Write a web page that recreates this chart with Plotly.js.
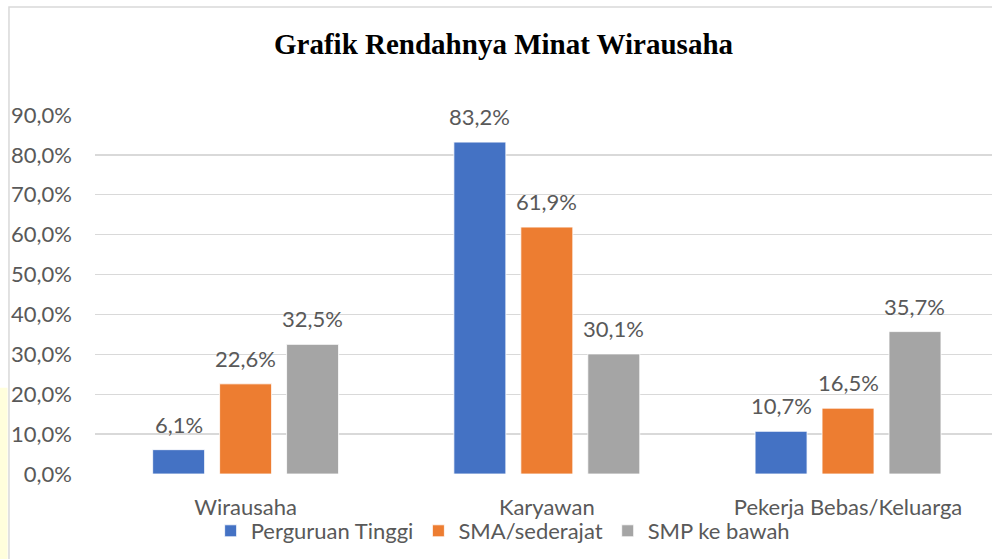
<!DOCTYPE html>
<html>
<head>
<meta charset="utf-8">
<script src="https://cdn.plot.ly/plotly-3.0.1.min.js"></script>
<style>
  html, body { margin: 0; padding: 0; background: #ffffff; overflow: hidden; }
  #chart { width: 992px; height: 559px; }
</style>
</head>
<body>
<div id="chart"></div>
<script>
// ---- Data ----
const categories = ["Wirausaha", "Karyawan", "Pekerja Bebas/Keluarga"];
const seriesNames = ["Perguruan Tinggi", "SMA/sederajat", "SMP ke bawah"];
const perguruanTinggi = [6.1, 83.2, 10.7];
const smaSederajat = [22.6, 61.9, 16.5];
const smpKeBawah = [32.5, 30.1, 35.7];
const yTickValues = [0, 10, 20, 30, 40, 50, 60, 70, 80, 90];
const yTickLabels = ["0,0%", "10,0%", "20,0%", "30,0%", "40,0%", "50,0%", "60,0%", "70,0%", "80,0%", "90,0%"];
const chartTitle = "Grafik Rendahnya Minat Wirausaha";

// ---- Styles ----
const colors = ["#4472C4", "#ED7D31", "#A5A5A5"];
const textColor = "#595959";
const gridColor = "#D9D9D9";
const fontFamily = "Lato, 'Open Sans', sans-serif";
const fontSize = 22;
const bargap = 0.333;

const seriesValues = [perguruanTinggi, smaSederajat, smpKeBawah];
const catIndex = categories.map((c, i) => i);

const traces = seriesValues.map((vals, j) => ({
  type: "bar",
  name: seriesNames[j],
  x: catIndex,
  y: vals,
  marker: { color: colors[j], line: { color: "#ffffff", width: 0.8 } },
  hoverinfo: "skip"
}));

function fmt(v) { return v.toFixed(1).replace(".", ",") + "%"; }

const slot = (1 - bargap) / seriesValues.length;
const annotations = [];
seriesValues.forEach((vals, j) => {
  vals.forEach((v, i) => {
    annotations.push({
      x: i + (j - (seriesValues.length - 1) / 2) * slot,
      y: v,
      xref: "x", yref: "y",
      text: fmt(v),
      showarrow: false,
      yanchor: "bottom",
      yshift: 10,
      font: { family: fontFamily, size: fontSize, color: textColor }
    });
  });
});

const layout = {
  width: 992,
  height: 559,
  paper_bgcolor: "#ffffff",
  plot_bgcolor: "#ffffff",
  margin: { l: 95, r: 0, t: 115, b: 85, pad: 0 },
  title: {
    text: "<b>" + chartTitle + "</b>",
    x: 0.5076, xanchor: "center",
    y: 0.921, yanchor: "middle",
    font: { family: "'Liberation Serif', 'Times New Roman', serif", size: 29, color: "#000000" }
  },
  barmode: "group",
  bargap: bargap,
  bargroupgap: 0.224,
  xaxis: {
    type: "linear",
    range: [-0.5, 2.478],
    tickvals: catIndex,
    ticktext: categories,
    showgrid: false,
    zeroline: false,
    showline: false,
    ticks: "",
    ticklabelstandoff: 18,
    tickfont: { family: fontFamily, size: fontSize, color: textColor },
    fixedrange: true
  },
  yaxis: {
    range: [0, 90],
    tickvals: yTickValues,
    ticktext: yTickLabels,
    showgrid: true,
    gridcolor: gridColor,
    gridwidth: 1.3,
    zeroline: false,
    showline: false,
    ticks: "",
    ticklabelstandoff: 22,
    tickfont: { family: fontFamily, size: fontSize, color: textColor },
    fixedrange: true
  },
  showlegend: true,
  legend: {
    orientation: "h",
    x: 0.455, xanchor: "center",
    y: -0.1588, yanchor: "middle",
    font: { family: fontFamily, size: fontSize, color: textColor },
    bgcolor: "rgba(0,0,0,0)",
    traceorder: "normal"
  },
  annotations: annotations,
  shapes: [
    {
      type: "rect", xref: "paper", yref: "paper",
      x0: -0.0959, x1: 1.2, y0: -0.35, y1: 1.3008,
      line: { color: "#D9D9D9", width: 1.5 },
      fillcolor: "rgba(0,0,0,0)",
      layer: "below"
    },
    {
      type: "rect", xref: "paper", yref: "paper",
      x0: -0.1059, x1: -0.0975, y0: -0.35, y1: 0.24,
      line: { width: 0 },
      fillcolor: "#FFFEDC",
      layer: "below"
    }
  ]
};

Plotly.newPlot("chart", traces, layout, { displayModeBar: false, staticPlot: true });
</script>
</body>
</html>
